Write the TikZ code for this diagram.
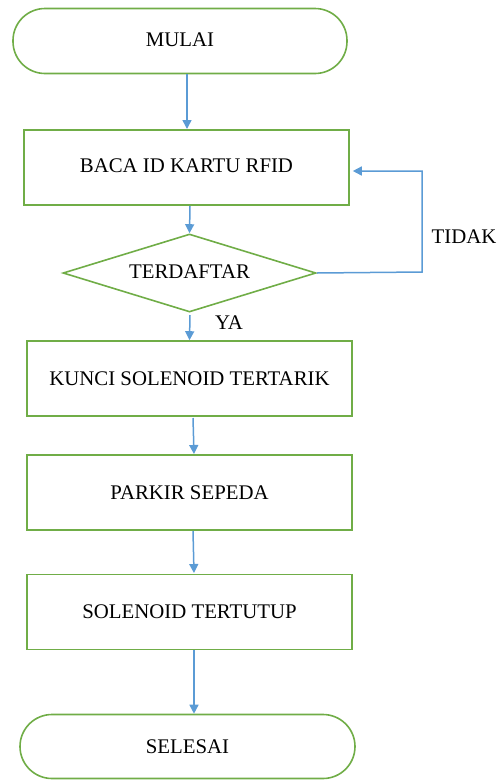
\documentclass[tikz,border=0pt]{standalone}
\usepackage{fontspec}
\setmainfont{Liberation Serif}
\usetikzlibrary{shapes.geometric,arrows.meta}
\definecolor{boxgreen}{RGB}{112,173,71}
\definecolor{arrblue}{RGB}{91,155,213}
\tikzset{
  every node/.style={font=\fontsize{20.8}{24}\selectfont},
  procbox/.style={draw=boxgreen, line width=1.6pt, rectangle, minimum width=325pt, minimum height=75pt, inner sep=0pt},
  termbox/.style={draw=boxgreen, line width=1.6pt, rectangle, rounded corners=32pt, inner sep=0pt},
  decbox/.style={draw=boxgreen, line width=1.6pt, diamond, aspect=3.24, minimum width=253pt, minimum height=78pt, inner sep=0pt},
  flow/.style={draw=arrblue, line width=1.5pt, -{Triangle[length=9pt,width=9pt]}},
  lbl/.style={inner sep=0pt}
}
\begin{document}
\begin{tikzpicture}[x=1pt,y=-1pt]
\useasboundingbox (0,0) rectangle (498,780);
\node[termbox, minimum width=334pt, minimum height=65pt] (mulai) at (180,41) {\raisebox{2pt}{MULAI}};
\node[procbox] (baca) at (186.5,167.5) {\raisebox{4pt}{BACA ID KARTU RFID}};
\node[decbox] (cek) at (189.5,273) {\raisebox{2pt}{TERDAFTAR}};
\node[procbox] (kunci) at (189.5,378.5) {KUNCI SOLENOID TERTARIK};
\node[procbox] (parkir) at (189.5,492.5) {PARKIR SEPEDA};
\node[procbox] (tutup) at (189.5,612) {SOLENOID TERTUTUP};
\node[termbox, minimum width=335pt, minimum height=64pt] (selesai) at (187.5,746.5) {SELESAI};
\node[lbl] (tidak) at (464,237) {TIDAK};
\node[lbl] (ya) at (229,323) {YA};
\coordinate (loop) at (422,272);
\draw[flow] (mulai.south -| 187,0) -- (187,129);
\draw[flow] (190,206) -- (cek.north);
\draw[flow] (190,315) -- (kunci.north);
\draw[flow] (193,418) -- (194,454);
\draw[flow] (193,531) -- (194,573);
\draw[flow] (194,650) -- (selesai.north -| 194,0);
\draw[flow] (cek.east) -- (loop) |- ([xshift=3pt]baca.east |- 0,171);
\end{tikzpicture}
\end{document}
